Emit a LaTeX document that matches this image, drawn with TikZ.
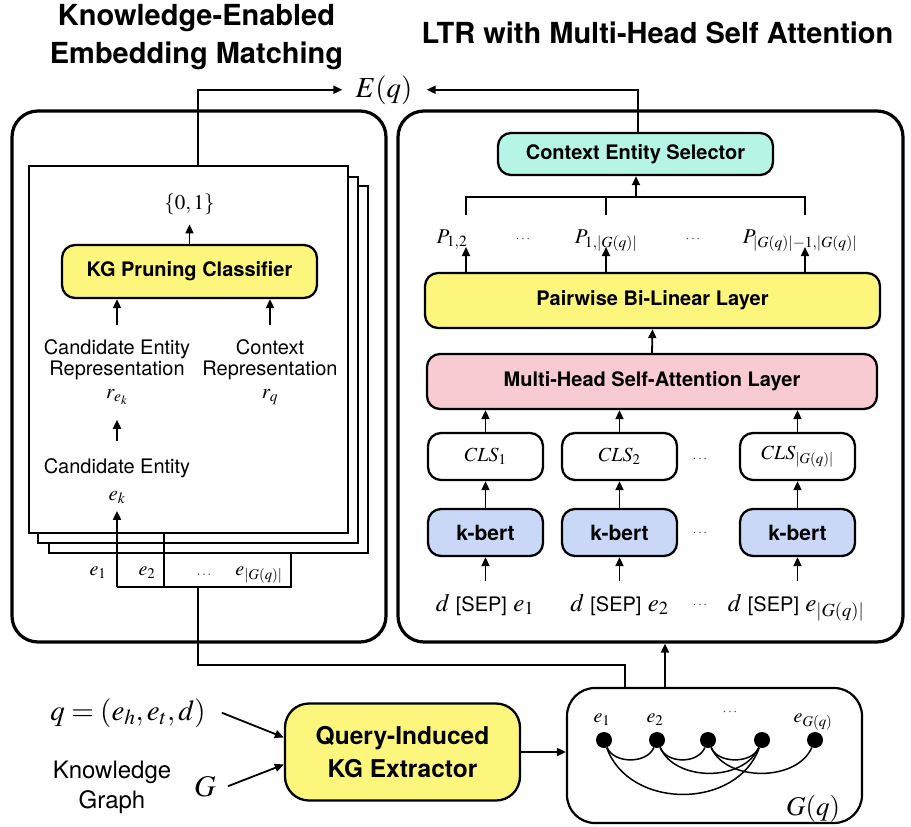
\documentclass[tikz,border=0pt]{standalone}
\usepackage{mathptmx}
\usepackage[no-math]{fontspec}
\setmainfont{Liberation Serif}
\setsansfont{TeX Gyre Heros}
\usetikzlibrary{arrows.meta,calc}

\definecolor{kgyellow}{RGB}{252,247,124}
\definecolor{selcyan}{RGB}{182,245,230}
\definecolor{attpink}{RGB}{248,202,210}
\definecolor{bertblue}{RGB}{202,216,247}

\newcommand\fsz[2]{\fontsize{#1}{#2}\selectfont}

\tikzset{
  box/.style={draw, line width=2.3pt, rounded corners=13pt, font=\sffamily\bfseries\fsz{20}{24}, align=center, inner sep=0pt},
  arr/.style={-{Triangle[length=9pt,width=8pt]}, line width=1.8pt},
  wire/.style={line width=1.6pt},
  outer/.style={draw, line width=3.2pt, rounded corners=26pt, inner sep=0pt},
  page/.style={draw, line width=2.4pt, fill=white, inner sep=0pt},
  txt/.style={font=\sffamily\fsz{20}{21}, align=center},
  mth/.style={font=\fsz{20}{24}, inner sep=2pt},
  dotsym/.style={font=\fsz{14}{16}, text=black!75},
  vert/.style={circle, fill=black, minimum size=16pt, inner sep=0pt},
  edge/.style={line width=1.5pt},
}

\begin{document}
\begin{tikzpicture}[x=1pt,y=-1pt]
\useasboundingbox (0,0) rectangle (911,827);

% ---------- titles ----------
\node[font=\sffamily\bfseries\fsz{29}{38}, align=center] (t1) at (196.5,36.8) {Knowledge-Enabled\\Embedding Matching};
\node[font=\sffamily\bfseries\fsz{29}{34}, anchor=base] (t2) at (657.5,43) {LTR with Multi-Head Self Attention};

% ---------- output ----------
\node[font=\fsz{29}{32}, anchor=base, inner xsep=0pt] (Eq) at (384,97) {$E(q)$};

% ---------- outer panels ----------
\node[outer, minimum width=374pt, minimum height=531pt] (lbox) at (199,376.5) {};
\node[outer, minimum width=505pt, minimum height=531pt] (rbox) at (650.5,376.5) {};

% ---------- left panel: stacked pages ----------
\node[page, minimum width=319pt, minimum height=367pt] (pg3) at (208.5,369.5) {};
\node[page, minimum width=320pt, minimum height=366pt] (pg2) at (198,360) {};
\node[page, minimum width=319pt, minimum height=367pt] (pg1) at (188.5,349.5) {};

\node[mth, anchor=base, font=\fsz{21}{24}] (zo) at (189.5,209) {$\{0,1\}$};
\node[box, fill=kgyellow, minimum width=255pt, minimum height=53pt] (kgp) at (189.5,271.5) {KG Pruning Classifier};
\node[txt] (cer) at (117,359.3) {Candidate Entity\\Representation};
\node[txt] (ctr) at (270,359.3) {Context\\Representation};
\node[mth, anchor=base, font=\fsz{21}{24}] (rek) at (117,398) {$r_{e_k}$};
\node[mth, anchor=base, font=\fsz{21}{24}] (rq) at (270,398) {$r_q$};
\node[txt, anchor=base] (ce2) at (117,473) {Candidate Entity};
\node[mth, anchor=base, font=\fsz{21}{24}] (ek) at (117,500) {$e_k$};

\draw[arr] (kgp.north) -- ([yshift=-8pt]zo.south);
\draw[arr] ([yshift=11pt]cer.north) -- (cer.north |- kgp.south);
\draw[arr] ([yshift=11pt]ctr.north) -- (ctr.north |- kgp.south);
\draw[arr] ([yshift=14pt]ce2.north) -- ([yshift=-13pt]rek.south);

% entity list below the pages
\node[mth, anchor=base] (te1) at (98,575) {$e_1$};
\node[mth, anchor=base] (te2) at (147,575) {$e_2$};
\node[dotsym, anchor=base] (ted) at (204,575) {$\ldots$};
\node[mth, anchor=base] (teg) at (259,575) {$e_{|G(q)|}$};
\coordinate (tbl) at (117,587);
\coordinate (tbm) at (164,587);
\coordinate (tbr) at (291,587);
\coordinate (tout) at (198,587);
\draw[wire] (tbl) -- (tbr) -- (tbr |- pg3.south);
\draw[wire] (tbm) -- (tbm |- pg1.south);
\draw[arr] (tbl) -- ([yshift=-5pt]ek.south);

\draw[arr] ([xshift=9.5pt]pg1.north) |- ([xshift=-13pt]Eq.west);

% ---------- right panel ----------
\node[box, fill=selcyan, minimum width=275pt, minimum height=42pt] (sel) at (635.5,154) {Context Entity Selector};
\node[box, fill=kgyellow, minimum width=455pt, minimum height=55pt] (pbl) at (652.5,300.5) {Pairwise Bi-Linear Layer};
\node[box, fill=attpink, minimum width=450pt, minimum height=55pt] (mhsa) at (652,381.5) {Multi-Head Self-Attention Layer};

\foreach \i/\x in {1/485.5,2/619.5,3/797.5}{
  \node[box, font=\fsz{20}{24}, fill=white, minimum width=115pt, minimum height=47pt] (c\i) at (\x,456.5)
    {\ifnum\i=1 $CLS_1$\else\ifnum\i=2 $CLS_2$\else $CLS_{|G(q)|}$\fi\fi};
  \node[box, font=\sffamily\bfseries\fsz{21}{24}, fill=bertblue, minimum width=115pt, minimum height=47pt] (k\i) at (\x,532.5) {k-bert};
}
\node[anchor=base, font=\fsz{25}{28}] (in1) at (485,611) {$d$ {\sffamily\fsz{20}{22}[SEP]} $e_1$};
\node[anchor=base, font=\fsz{25}{28}] (in2) at (619.5,611) {$d$ {\sffamily\fsz{20}{22}[SEP]} $e_2$};
\node[anchor=base, font=\fsz{25}{28}] (in3) at (796,611) {$d$ {\sffamily\fsz{20}{22}[SEP]} $e_{|G(q)|}$};

\node[dotsym] (dc) at (700,459) {$\cdots$};
\node[dotsym] (dk) at (700,533) {$\cdots$};
\node[dotsym] (di) at (700,605) {$\cdots$};

\foreach \i in {1,2,3}{
  \draw[arr] ([yshift=9pt]in\i.north -| k\i.south) -- (k\i.south);
  \draw[arr] (k\i.north) -- (c\i.south);
  \draw[arr] (c\i.north) -- (c\i.north |- mhsa.south);
}
\draw[arr] (mhsa.north) -- (pbl.south);

\node[mth, anchor=base, font=\fsz{21}{24}] (p1) at (452,243) {${P}_{1,2}$};
\node[mth, anchor=base, font=\fsz{21}{24}] (p2) at (606,243) {${P}_{1,|G(q)|}$};
\node[mth, anchor=base, font=\fsz{21}{24}] (p3) at (800,243) {${P}_{|G(q)|-1,|G(q)|}$};
\node[dotsym] (dp1) at (523,239) {$\cdots$};
\node[dotsym] (dp2) at (693,239) {$\cdots$};

\coordinate (pa1) at (466,247);
\coordinate (pa2) at (606,247);
\coordinate (pa3) at (805,247);
\foreach \i in {1,2,3}{\draw[arr] (pa\i |- pbl.north) -- (pa\i);}

\coordinate (pb1) at (466,215);
\coordinate (pb2) at (606,215);
\coordinate (pb3) at (805,215);
\coordinate (brk) at (636,197);
\draw[wire] (pb1) |- (brk) -| (pb3);
\draw[wire] (pb2) -- (pb2 |- brk);
\draw[arr] (brk) -- (brk |- sel.south);

\draw[arr] ([xshift=2.5pt]sel.north) |- ([xshift=14pt]Eq.east);

% ---------- bottom: extraction ----------
\node[anchor=base, font=\fsz{29}{32}, inner xsep=0pt] (qlab) at (128,720) {$q=(e_h,e_t,d)$};
\node[anchor=base, font=\fsz{30}{32}, inner xsep=0pt] (glab) at (205,796) {$G$};
\node[font=\sffamily\fsz{24}{30}, align=center] (kgl) at (112,787) {Knowledge\\Graph};

\node[box, fill=kgyellow, rounded corners=24pt, minimum width=235pt, minimum height=97pt, font=\sffamily\bfseries\fsz{24.5}{33}] (qx) at (402.5,752) {Query-Induced\\KG Extractor};

\draw[arr] ([xshift=16pt]qlab.east) -- (qx.173.5);
\draw[arr] ([xshift=12pt]glab.east) -- (qx.186.5);

\node[draw, line width=2.2pt, rounded corners=28pt, minimum width=295pt, minimum height=135pt, inner sep=0pt] (gq) at (714.5,755.5) {};
\draw[arr] (qx.east) -- (qx.east -| gq.west);

% induced subgraph
\node[vert] (n1) at (604,740) {};
\node[vert] (n2) at (657,740) {};
\node[vert] (n3) at (708,740) {};
\node[vert] (n4) at (762,740) {};
\node[vert] (n5) at (815,740) {};
\draw[edge] (n1) .. controls +(10,24) and +(-10,24) .. (n2);
\draw[edge] (n2) .. controls +(10,24) and +(-10,24) .. (n3);
\draw[edge] (n3) .. controls +(10,24) and +(-10,24) .. (n4);
\draw[edge] (n2) .. controls +(18,42) and +(-18,42) .. (n4);
\draw[edge] (n3) .. controls +(18,42) and +(-18,42) .. (n5);
\draw[edge] (n1) .. controls +(25,70) and +(-25,70) .. (n4);

\node[mth, anchor=base] (g1) at (602,722) {$e_1$};
\node[mth, anchor=base] (g2) at (655,722) {$e_2$};
\node[dotsym] (gd) at (730,712) {$\cdots$};
\node[mth, anchor=base] (g5) at (813,722) {$e_{G(q)}$};
\node[anchor=base, font=\fsz{27}{30}] (gql) at (813,815) {$G(q)$};

% links between the panels
\coordinate (bend) at (198,665);
\coordinate (gin) at (625,688);
\draw[wire] (tout) -- (bend) -| (gin);
\coordinate (gout) at (665,688);
\draw[arr] (gout) -- (gout |- rbox.south);
\end{tikzpicture}
\end{document}
